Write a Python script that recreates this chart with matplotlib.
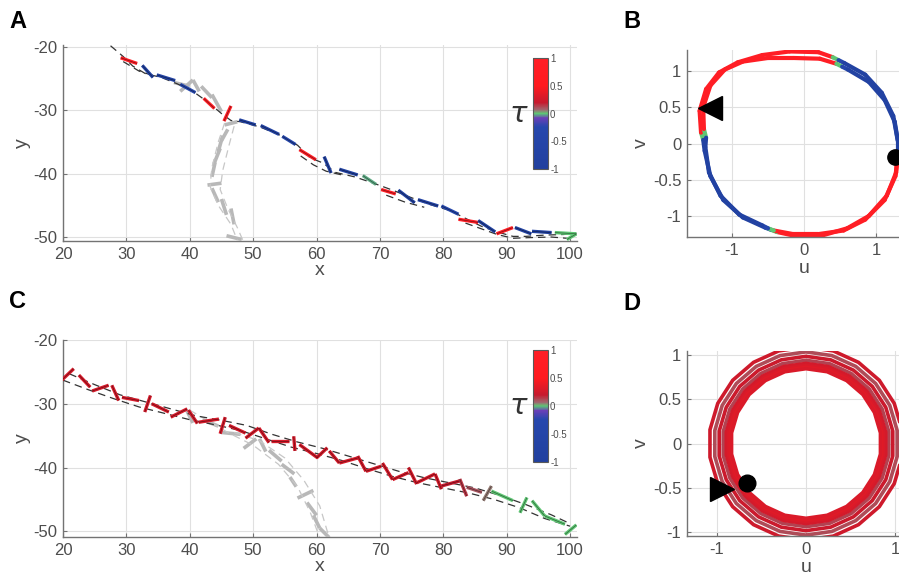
import matplotlib
matplotlib.use("Agg")
import matplotlib.pyplot as plt
from matplotlib.collections import LineCollection
from matplotlib.colors import LinearSegmentedColormap, Normalize
from matplotlib.patches import RegularPolygon
from matplotlib.cm import ScalarMappable

plt.rcParams["font.family"] = ["Liberation Sans", "DejaVu Sans"]
plt.rcParams["axes.unicode_minus"] = False

# ---------------- data ----------------
# panel A: swimmer links (x0, y0, x1, y1) and their tau
a_links = [
    (29.1, -21.7, 31.7, -22.6), (32.5, -22.9, 34.2, -24.8), (34.8, -24.4, 37.7, -25.3),
    (38.5, -25.9, 40.9, -27.2), (42.2, -28.1, 43.9, -29.7), (45.4, -31.7, 46.5, -29.3),
    (47.8, -31.5, 50.4, -32.3), (51.2, -32.4, 54.1, -33.8), (54.6, -34.1, 56.7, -35.4),
    (57.3, -36.2, 59.9, -37.8), (61.2, -37.3, 62.3, -39.9), (63.6, -39.3, 66.5, -40.2),
    (67.3, -40.3, 69.4, -41.7), (70.2, -42.5, 72.5, -43.2), (72.9, -42.6, 75.5, -44.6),
    (76.0, -44.1, 79.2, -45.1), (79.7, -45.1, 82.4, -46.4), (82.4, -47.2, 85.5, -47.7),
    (85.5, -47.4, 88.2, -49.2), (88.4, -49.5, 91.0, -48.5), (91.3, -48.5, 93.9, -49.5),
    (94.0, -49.1, 97.1, -49.3), (97.6, -49.3, 101.0, -49.5), (99.5, -50.4, 101.0, -49.5),
]
a_tau = [0.9, -0.8, -0.7, -0.3, 0.9, 0.9, -0.8, -0.7, -0.4, 0.9, -0.8, -0.8,
         -0.02, 0.9, -0.8, -0.7, -0.3, 0.9, -0.8, 0.9, -0.8, -0.8, 0.0, 0.0]

a_path_x = [27.5, 29.5, 31, 33, 35.5, 38, 40.5, 43, 45, 46.5, 48, 51, 54, 57, 59, 61, 63,
            66, 69, 72, 75, 78, 81, 84, 86, 88.5, 91, 93, 96, 99, 101]
a_path_y = [-19.8, -21.5, -23, -24.2, -24.8, -25.8, -27, -28.8, -30.5, -31.6, -31.8, -32.6,
            -33.8, -35.5, -37.5, -38.3, -39.8, -40.5, -41.5, -42.6, -43.8, -44.9, -45.8,
            -47.3, -48.3, -49.2, -49.9, -49.9, -49.7, -49.6, -49.4]
a_path2_x = [29.5, 32, 34.5, None, 57.5, 59.5, 61.5, 64, None, 71, 74, 77, None,
             83.5, 86, 88.5, 91, 93.5, 97, 99.5]
a_path2_y = [-22.3, -23.8, -24.6, None, -37.2, -38.6, -39.6, -40.2, None, -43.4, -44.5,
             -45.3, None, -47.8, -48.7, -49.6, -50.2, -50.1, -50.0, -50.2]

a_gray_links = [
    (37.5, -25.6, 40.0, -26.2), (38.5, -27.0, 40.5, -25.2), (40.5, -25.2, 41.5, -27.0),
    (41.8, -26.2, 43.5, -28.0), (43.5, -27.5, 45.0, -30.2), (45.5, -32.3, 47.5, -31.8),
    (46.0, -33.0, 45.0, -34.8), (45.2, -34.0, 44.5, -36.5), (44.8, -36.0, 43.8, -38.5),
    (44.0, -38.2, 43.5, -40.5), (42.8, -41.8, 45.0, -41.5), (43.5, -42.3, 44.5, -44.5),
    (45.0, -44.0, 45.8, -46.5), (46.5, -45.5, 47.0, -48.0), (45.8, -49.8, 48.2, -50.4),
]
a_gray_path1_x = [45.5, 44.5, 43.5, 43.2, 44.5, 46.5, 47.5]
a_gray_path1_y = [-32, -35, -39, -42, -45, -48, -50.5]
a_gray_path2_x = [47, 46.2, 45.2, 44.8, 46, 47.5, 48.5]
a_gray_path2_y = [-32.5, -35.5, -39.5, -42.5, -45.5, -48.5, -50.8]

# panel C
c_links = [
    (19.8, -26.3, 21.7, -24.5), (22.5, -25.5, 24.3, -27.4), (24.6, -28.0, 27.2, -27.1),
    (27.7, -27.1, 28.8, -29.5), (29.3, -29.0, 32.0, -29.5), (32.9, -31.3, 33.8, -28.7),
    (34.0, -30.0, 36.7, -31.3), (37.0, -32.1, 39.6, -30.8), (39.8, -31.0, 41.2, -33.1),
    (41.4, -32.9, 44.6, -32.4), (44.8, -34.7, 45.6, -32.1), (46.2, -33.4, 48.8, -34.6),
    (48.8, -35.4, 50.9, -33.8), (50.9, -33.8, 52.5, -36.1), (52.8, -35.8, 55.7, -35.8),
    (56.6, -37.4, 56.4, -35.1), (57.3, -36.4, 60.2, -38.5), (60.0, -38.5, 61.7, -36.9),
    (62.0, -37.4, 63.6, -39.3), (63.6, -39.3, 66.5, -38.5), (66.5, -38.2, 67.8, -40.6),
    (67.8, -40.6, 70.2, -39.8), (70.4, -39.3, 72.0, -41.9), (72.0, -41.9, 74.5, -40.8),
    (74.5, -40.0, 75.8, -42.6), (75.8, -42.4, 78.7, -41.0), (78.7, -41.0, 79.7, -43.4),
    (79.7, -42.9, 82.6, -42.1), (82.6, -41.8, 83.7, -44.5), (83.7, -43.1, 86.1, -43.9),
    (86.3, -45.2, 87.6, -42.9), (87.6, -43.7, 91.0, -45.2), (92.1, -47.1, 93.2, -44.7),
    (94.0, -45.2, 96.0, -47.6), (96.0, -47.6, 99.2, -48.9), (99.2, -50.5, 101.0, -49.0),
]
c_tau = [0.28] * 27 + [0.2, 0.15, 0.1, 0.05, 0.0, 0.0, 0.0, 0.0, 0.0]

c_path_x = [20, 24, 28, 32, 36, 40, 44, 48, 52, 56, 60, 64, 68, 72, 76, 80, 84, 88, 92, 96, 100]
c_path_y = [-26.3, -27.8, -29.2, -30.5, -31.5, -32.5, -33.3, -34.2, -35.5, -36.8, -37.8,
            -38.9, -40.2, -41.4, -42.4, -43.2, -44.0, -45.0, -46.3, -48.0, -49.2]
c_path2_x = [21, 25, 29, 33, 37, 41, 45, 49, 53, 57, 61, 65, 69, 73, 77, 81, 85, 89, 93, 97, 100]
c_path2_y = [-25.3, -27.0, -28.6, -29.7, -30.8, -31.9, -32.6, -33.4, -34.8, -36.0, -37.0,
             -38.2, -39.4, -40.6, -41.6, -42.4, -43.2, -44.4, -45.8, -47.4, -48.8]

c_gray_links = [
    (39.5, -31.0, 40.5, -33.0), (42.0, -32.5, 44.5, -33.5), (45.0, -34.5, 48.0, -34.8),
    (48.5, -37.0, 50.5, -35.5), (51.0, -35.5, 52.0, -37.5), (52.5, -37.3, 54.5, -39.0),
    (54.5, -39.5, 56.5, -41.0), (55.8, -41.5, 56.8, -43.0), (57.0, -44.8, 59.5, -43.6),
    (58.5, -45.5, 60.0, -47.5), (59.5, -47.5, 60.5, -49.5), (60.5, -49.5, 62.0, -51.0),
]
c_gray_path1_x = [40, 46, 50, 54, 57, 59, 60.5]
c_gray_path1_y = [-31, -34.5, -36.5, -39.5, -43, -47, -51]
c_gray_path2_x = [47, 51, 55, 58, 60.5, 62]
c_gray_path2_y = [-34.5, -35.8, -38.5, -42, -46, -51]

# panel B: phase loops (u, v) and tau per segment
b_loop1_u = [-1.40, -1.43, -1.45, -1.36, -1.18, -0.92, -0.58, -0.2, 0.2, 0.40, 0.48, 0.56,
             0.85, 1.08, 1.24, 1.30, 1.30, 1.28, 1.15, 0.9, 0.6, 0.25, -0.1, -0.38, -0.46,
             -0.54, -0.85, -1.12, -1.30, -1.38, -1.40]
b_loop1_v = [0.05, 0.15, 0.45, 0.75, 0.98, 1.12, 1.22, 1.27, 1.26, 1.19, 1.15, 1.11, 0.95,
             0.70, 0.38, 0.05, -0.15, -0.40, -0.72, -1.00, -1.17, -1.27, -1.28, -1.22,
             -1.19, -1.16, -1.02, -0.78, -0.45, -0.10, 0.05]
b_loop2_u = [-1.36, -1.39, -1.40, -1.30, -1.10, -0.85, -0.50, -0.15, 0.22, 0.45, 0.53, 0.61,
             0.90, 1.12, 1.26, 1.31, 1.30, 1.27, 1.12, 0.85, 0.55, 0.2, -0.15, -0.42, -0.50,
             -0.58, -0.90, -1.16, -1.32, -1.37, -1.36]
b_loop2_v = [0.08, 0.2, 0.5, 0.80, 1.02, 1.13, 1.18, 1.18, 1.17, 1.10, 1.06, 1.02, 0.85,
             0.60, 0.30, 0.0, -0.2, -0.45, -0.78, -1.05, -1.20, -1.25, -1.25, -1.20, -1.17,
             -1.13, -0.98, -0.72, -0.40, -0.05, 0.08]
b_seg_tau = [0.0, 0.9, 0.9, 0.9, 0.9, 0.9, 0.9, 0.9, 0.9, 0.0, -0.3,
             -0.8, -0.8, -0.8, -0.8, -0.8, 0.5, 0.9, 0.9, 0.9, 0.9, 0.9, 0.9,
             0.0, -0.3, -0.8, -0.8, -0.8, -0.8, -0.8]
b_start = (-1.31, 0.49)
b_end = (1.26, -0.18)

# panel D: loop radii and tau
d_radii = [1.09, 1.035, 0.985, 0.94, 0.905, 0.88, 0.86, 0.845]
d_tau = [0.24, 0.11, 0.22, 0.13, 0.26, 0.3, 0.34, 0.3]
d_start = (-0.94, -0.51)
d_end = (-0.66, -0.45)

# ---------------- colormap ----------------
cmap = LinearSegmentedColormap.from_list("tau", [
    (0.0, (0.13, 0.25, 0.62)), (0.38, (0.15, 0.28, 0.68)), (0.46, (0.42, 0.25, 0.72)),
    (0.5, (0.35, 0.80, 0.45)), (0.53, (0.62, 0.42, 0.45)), (0.6, (0.78, 0.10, 0.18)),
    (0.75, (1.0, 0.1, 0.12)), (1.0, (1.0, 0.12, 0.15))])
norm = Normalize(-1, 1)

fig = plt.figure(figsize=(8.99, 5.84), dpi=100)
W, H = 899.0, 584.0


def add_ax(left, top, right, bottom):
    return fig.add_axes([left / W, 1 - bottom / H, (right - left) / W, (bottom - top) / H])


def style(ax):
    ax.grid(True, color="0.88", lw=0.8)
    ax.set_axisbelow(True)
    for s in ["top", "right"]:
        ax.spines[s].set_visible(False)
    for s in ["left", "bottom"]:
        ax.spines[s].set_color("0.45")
        ax.spines[s].set_linewidth(1.0)
    ax.tick_params(direction="in", length=3, color="0.45", labelcolor="0.3",
                   labelsize=12, pad=4)


def draw_links(ax, links, tau=None, color=None, lw=2.4):
    segs = [[(l[0], l[1]), (l[2], l[3])] for l in links]
    if tau is not None:
        lc = LineCollection(segs, cmap=cmap, norm=norm, linewidths=lw, zorder=4)
        lc.set_array(tau)
    else:
        lc = LineCollection(segs, colors=color, linewidths=lw, zorder=3)
    ax.add_collection(lc)
    if tau is not None:
        ax.add_collection(LineCollection(segs, colors="k", linewidths=0.5, alpha=0.5, zorder=5))


def dashed(ax, x, y, color="0.2"):
    x = [float("nan") if v is None else v for v in x]
    y = [float("nan") if v is None else v for v in y]
    ax.plot(x, y, ls=(0, (6, 4)), color=color, lw=0.9, zorder=4)


def traj_panel(ax, links, tau, p1x, p1y, p2x, p2y, glinks, g1x, g1y, g2x, g2y, ylim):
    style(ax)
    dashed(ax, g1x, g1y, "0.78")
    dashed(ax, g2x, g2y, "0.78")
    draw_links(ax, glinks, color="0.72", lw=2.6)
    dashed(ax, p1x, p1y)
    dashed(ax, p2x, p2y)
    draw_links(ax, links, tau=tau)
    ax.set_xlim(20, 101.1)
    ax.set_ylim(*ylim)
    ax.set_xticks(range(20, 101, 10))
    ax.set_yticks([-50, -40, -30, -20])
    ax.set_xlabel("x", fontsize=14, color="0.3", labelpad=0)
    ax.set_ylabel("y", fontsize=14, color="0.3", labelpad=2)


def colorbar(top, bottom):
    cax = add_ax(533, top, 548, bottom)
    cb = fig.colorbar(ScalarMappable(norm=norm, cmap=cmap), cax=cax, ticks=[-1, -0.5, 0, 0.5, 1])
    cb.set_ticklabels(["-1", "-0.5", "0", "0.5", "1"])
    cb.ax.tick_params(labelsize=7, length=0, pad=1.5, labelcolor="0.3")
    cb.outline.set_edgecolor("0.35")
    fig.text(519 / W, 1 - (top + bottom) / 2 / H, r"$\tau$", fontsize=21,
             ha="center", va="center", color="0.2")


# A
axA = add_ax(63, 45, 577, 241)
traj_panel(axA, a_links, a_tau, a_path_x, a_path_y, a_path2_x, a_path2_y,
           a_gray_links, a_gray_path1_x, a_gray_path1_y, a_gray_path2_x, a_gray_path2_y,
           (-50.63, -19.68))
colorbar(58, 169)

# C
axC = add_ax(63, 340, 577, 537)
traj_panel(axC, c_links, c_tau, c_path_x, c_path_y, c_path2_x, c_path2_y,
           c_gray_links, c_gray_path1_x, c_gray_path1_y, c_gray_path2_x, c_gray_path2_y,
           (-50.9, -20))
colorbar(350, 462)

# B
axB = add_ax(687, 50, 687 + 234, 237)
style(axB)
for lu, lv in [(b_loop1_u, b_loop1_v), (b_loop2_u, b_loop2_v)]:
    segs = [[(lu[i], lv[i]), (lu[i + 1], lv[i + 1])] for i in range(len(lu) - 1)]
    lc = LineCollection(segs, cmap=cmap, norm=norm, linewidths=3.0, capstyle="round")
    lc.set_array(b_seg_tau)
    axB.add_collection(lc)
axB.plot(*b_start, marker="<", ms=17, color="k", zorder=6, clip_on=False)
axB.plot(*b_end, marker="o", ms=11, color="k", zorder=6, clip_on=False)
axB.set_xlim(-1.625, 1.625)
axB.set_ylim(-1.29, 1.29)
axB.set_xticks([-1, 0, 1])
axB.set_yticks([-1, -0.5, 0, 0.5, 1])
axB.set_yticklabels(["-1", "-0.5", "0", "0.5", "1"])
axB.set_xlabel("u", fontsize=14, color="0.3", labelpad=2)
axB.set_ylabel("v", fontsize=14, color="0.3", labelpad=2)

# D
axD = add_ax(687, 351, 687 + 238, 536)
style(axD)
for r, t in zip(d_radii, d_tau):
    axD.add_patch(RegularPolygon((0, 0), numVertices=22, radius=r, fill=False,
                                 edgecolor=cmap(norm(t)), lw=2.6))
axD.plot(*d_start, marker=">", ms=17, color="k", zorder=6, clip_on=False)
axD.plot(*d_end, marker="o", ms=12, color="k", zorder=6, clip_on=False)
axD.set_xlim(-1.337, 1.337)
axD.set_ylim(-1.045, 1.045)
axD.set_xticks([-1, 0, 1])
axD.set_yticks([-1, -0.5, 0, 0.5, 1])
axD.set_yticklabels(["-1", "-0.5", "0", "0.5", "1"])
axD.set_xlabel("u", fontsize=14, color="0.3", labelpad=2)
axD.set_ylabel("v", fontsize=14, color="0.3", labelpad=2)

for lbl, x, y in [("A", 18, 22), ("B", 632, 22), ("C", 18, 302), ("D", 632, 303)]:
    fig.text(x / W, 1 - y / H, lbl, fontsize=17, fontweight="bold", ha="center", va="center")

fig.savefig("out.png", dpi=100)
